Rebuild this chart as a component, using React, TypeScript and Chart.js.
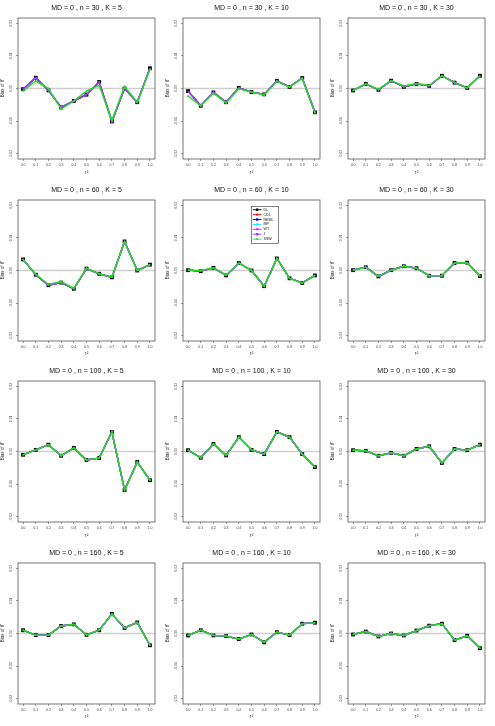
import React, { useEffect, useRef } from "react";
import { Chart, registerables } from "chart.js";

Chart.register(...registerables);

const FONT = "'Liberation Sans', Arial, Helvetica, sans-serif";

const tau = [0, 0.1, 0.2, 0.3, 0.4, 0.5, 0.6, 0.7, 0.8, 0.9, 1.0];
const xTickLabels = ["0.0", "0.1", "0.2", "0.3", "0.4", "0.5", "0.6", "0.7", "0.8", "0.9", "1.0"];
const yTickValues = [-0.02, -0.01, 0, 0.01, 0.02];
const yTickLabels = ["-0.02", "-0.01", "0.00", "0.01", "0.02"];

const methods = ["DL", "CDL", "REML", "MP", "WT", "J", "SSW"];
const methodColors = ["#000000", "#ff0000", "#0000ff", "#00e5ff", "#ff00ff", "#9b30ff", "#22dd22"];
const methodMarkers = ["rect", "circle", "rect", "star", "triangleDown", "rect", "triangle"];

// n = 30
const dlN30K5 = [-0.0002, 0.0033, -0.0006, -0.0058, -0.0038, -0.0019, 0.0020, -0.0101, 0.0000, -0.0042, 0.0062];
const sswN30K5 = [-0.0007, 0.0023, 0.0000, -0.0063, -0.0038, -0.0008, 0.0010, -0.0099, 0.0006, -0.0042, 0.0059];
const dlN30K10 = [-0.0008, -0.0053, -0.0012, -0.0042, 0.0002, -0.0011, -0.0018, 0.0023, 0.0005, 0.0032, -0.0073];
const sswN30K10 = [-0.0023, -0.0053, -0.0014, -0.0044, -0.0001, -0.0011, -0.0020, 0.0022, 0.0004, 0.0031, -0.0075];
const dlN30K30 = [-0.0006, 0.0014, -0.0004, 0.0024, 0.0005, 0.0014, 0.0008, 0.0039, 0.0018, 0.0002, 0.0039];
const sswN30K30 = [-0.0006, 0.0014, -0.0003, 0.0024, 0.0008, 0.0015, 0.0009, 0.0039, 0.0018, 0.0002, 0.0038];
// n = 60
const dlN60K5 = [0.0034, -0.0013, -0.0045, -0.0037, -0.0056, 0.0006, -0.0010, -0.0021, 0.0089, 0.0000, 0.0018];
const sswN60K5 = [0.0034, -0.0012, -0.0043, -0.0034, -0.0055, 0.0007, -0.0010, -0.0020, 0.0088, 0.0000, 0.0018];
const dlN60K10 = [0.0001, -0.0002, 0.0008, -0.0015, 0.0023, 0.0000, -0.0048, 0.0037, -0.0024, -0.0038, -0.0015];
const sswN60K10 = [0.0001, 0.0000, 0.0008, -0.0015, 0.0023, 0.0000, -0.0048, 0.0037, -0.0024, -0.0038, -0.0015];
const dlN60K30 = [0.0001, 0.0010, -0.0018, 0.0001, 0.0013, 0.0007, -0.0016, -0.0016, 0.0023, 0.0024, -0.0017];
// n = 100
const dlN100K5 = [-0.0010, 0.0005, 0.0021, -0.0013, 0.0011, -0.0026, -0.0020, 0.0060, -0.0118, -0.0032, -0.0088];
const dlN100K10 = [0.0004, -0.0019, 0.0023, -0.0012, 0.0044, 0.0005, -0.0008, 0.0060, 0.0044, -0.0008, -0.0048];
const dlN100K30 = [0.0004, 0.0002, -0.0013, -0.0004, -0.0013, 0.0008, 0.0016, -0.0035, 0.0008, 0.0004, 0.0021];
// n = 160
const dlN160K5 = [0.0010, -0.0005, -0.0005, 0.0023, 0.0028, -0.0004, 0.0010, 0.0060, 0.0017, 0.0034, -0.0036];
const dlN160K10 = [-0.0006, 0.0010, -0.0006, -0.0008, -0.0017, -0.0003, -0.0027, 0.0004, -0.0005, 0.0030, 0.0033];
const dlN160K30 = [-0.0003, 0.0006, -0.0009, 0.0000, -0.0006, 0.0009, 0.0024, 0.0030, -0.0020, -0.0007, -0.0045];

const nValues = [30, 60, 100, 160];
const kValues = [5, 10, 30];

const panels = [
  { n: 30, k: 5, dl: dlN30K5, ssw: sswN30K5 },
  { n: 30, k: 10, dl: dlN30K10, ssw: sswN30K10 },
  { n: 30, k: 30, dl: dlN30K30, ssw: sswN30K30 },
  { n: 60, k: 5, dl: dlN60K5, ssw: sswN60K5 },
  { n: 60, k: 10, dl: dlN60K10, ssw: sswN60K10 },
  { n: 60, k: 30, dl: dlN60K30, ssw: dlN60K30 },
  { n: 100, k: 5, dl: dlN100K5, ssw: dlN100K5 },
  { n: 100, k: 10, dl: dlN100K10, ssw: dlN100K10 },
  { n: 100, k: 30, dl: dlN100K30, ssw: dlN100K30 },
  { n: 160, k: 5, dl: dlN160K5, ssw: dlN160K5 },
  { n: 160, k: 10, dl: dlN160K10, ssw: dlN160K10 },
  { n: 160, k: 30, dl: dlN160K30, ssw: dlN160K30 },
];

const PANEL_W = 165;
const ROW_TOPS = [0, 182, 363, 545];
const ROW_H = [182, 181, 182, 181];
const PLOT_TOP = 18;
const PLOT_BOTTOM = 159;
const Y_AXIS_W = 18;
const RIGHT_PAD = 10;

function drawMarker(ctx: CanvasRenderingContext2D, style: string, x: number, y: number, r: number, color: string) {
  ctx.save();
  ctx.fillStyle = color;
  ctx.strokeStyle = color;
  ctx.lineWidth = 0.6;
  ctx.beginPath();
  if (style === "rect") {
    ctx.rect(x - r, y - r, 2 * r, 2 * r);
    ctx.fill();
  } else if (style === "circle") {
    ctx.arc(x, y, r, 0, Math.PI * 2);
    ctx.fill();
  } else if (style === "triangle") {
    ctx.moveTo(x, y - r * 1.2);
    ctx.lineTo(x + r * 1.1, y + r * 0.8);
    ctx.lineTo(x - r * 1.1, y + r * 0.8);
    ctx.closePath();
    ctx.fill();
  } else if (style === "triangleDown") {
    ctx.moveTo(x, y + r * 1.2);
    ctx.lineTo(x + r * 1.1, y - r * 0.8);
    ctx.lineTo(x - r * 1.1, y - r * 0.8);
    ctx.closePath();
    ctx.fill();
  } else {
    for (let a = 0; a < 4; a++) {
      const ang = (a * Math.PI) / 4;
      ctx.moveTo(x - Math.cos(ang) * r * 1.2, y - Math.sin(ang) * r * 1.2);
      ctx.lineTo(x + Math.cos(ang) * r * 1.2, y + Math.sin(ang) * r * 1.2);
    }
    ctx.stroke();
  }
  ctx.restore();
}

function Panel({ spec, left, top, height, showLegend }: any) {
  const ref = useRef<HTMLCanvasElement>(null);
  useEffect(() => {
    const canvas = ref.current!;
    const series = [spec.dl, spec.dl, spec.dl, spec.dl, spec.dl, spec.dl, spec.ssw];
    const datasets = methods.map((m, i) => ({
      label: m,
      data: tau.map((t, j) => ({ x: t, y: series[i][j] })),
      borderColor: methodColors[i],
      backgroundColor: methodColors[i],
      borderWidth: i === 6 ? 1.5 : i === 0 ? 1 : 1.3,
      pointStyle: i === 0 ? "rect" : "triangle",
      pointRadius: i === 0 ? 2.7 : i === 6 ? 1.4 : 0,
      pointHoverRadius: 0,
      pointBorderWidth: 0,
      tension: 0,
      order: 6 - i,
    }));

    const title = `MD = 0 , n = ${spec.n} , K = ${spec.k}`;

    const decor = {
      id: "decor",
      beforeDatasetsDraw(chart: any) {
        const { ctx, chartArea } = chart;
        const y0 = chart.scales.y.getPixelForValue(0);
        ctx.save();
        ctx.strokeStyle = "#cfcfcf";
        ctx.lineWidth = 1.4;
        ctx.beginPath();
        ctx.moveTo(chartArea.left, y0);
        ctx.lineTo(chartArea.right, y0);
        ctx.stroke();
        ctx.restore();
      },
      afterDraw(chart: any) {
        const { ctx, chartArea } = chart;
        ctx.save();
        ctx.strokeStyle = "#555555";
        ctx.lineWidth = 0.8;
        ctx.strokeRect(chartArea.left, chartArea.top, chartArea.right - chartArea.left, chartArea.bottom - chartArea.top);
        ctx.fillStyle = "#111111";
        ctx.font = `7px ${FONT}`;
        ctx.textAlign = "center";
        ctx.textBaseline = "middle";
        ctx.fillText(title, (chartArea.left + chartArea.right) / 2, 8.5);
        if (showLegend) {
          const bx = 86.5, by = 24.5, bw = 27, bh = 37;
          ctx.fillStyle = "#ffffff";
          ctx.fillRect(bx, by, bw, bh);
          ctx.strokeStyle = "#333333";
          ctx.lineWidth = 0.6;
          ctx.strokeRect(bx, by, bw, bh);
          ctx.font = `3.6px ${FONT}`;
          ctx.textAlign = "left";
          ctx.textBaseline = "middle";
          methods.forEach((m, i) => {
            const yy = by + 3.2 + i * 4.9;
            ctx.strokeStyle = methodColors[i];
            ctx.lineWidth = 0.9;
            ctx.beginPath();
            ctx.moveTo(bx + 1.3, yy);
            ctx.lineTo(bx + 10, yy);
            ctx.stroke();
            drawMarker(ctx, methodMarkers[i], bx + 5.6, yy, 1.2, methodColors[i]);
            ctx.fillStyle = "#111111";
            ctx.fillText(m, bx + 12, yy);
          });
        }
        ctx.restore();
      },
    };

    const chart = new Chart(canvas, {
      type: "line",
      data: { datasets },
      options: {
        animation: false,
        responsive: false,
        devicePixelRatio: 1,
        events: [],
        layout: { padding: { top: PLOT_TOP, right: RIGHT_PAD, left: 0, bottom: 0 } },
        plugins: { legend: { display: false }, title: { display: false }, tooltip: { enabled: false } },
        scales: {
          x: {
            type: "linear",
            min: -0.04,
            max: 1.04,
            afterBuildTicks: (s: any) => {
              s.ticks = tau.map((v) => ({ value: v }));
            },
            afterFit: (s: any) => {
              s.height = height - PLOT_BOTTOM;
            },
            ticks: {
              autoSkip: false,
              maxRotation: 0,
              minRotation: 0,
              padding: 1.5,
              color: "#444444",
              font: { size: 3.5, family: FONT },
              callback: (_v: any, i: number) => xTickLabels[i],
            },
            grid: { drawOnChartArea: false, drawTicks: true, tickLength: 2, color: "#555555", lineWidth: 0.6 },
            border: { display: false },
            title: { display: true, text: "τ²", color: "#333333", font: { size: 5, family: FONT }, padding: { top: 0, bottom: 6 } },
          },
          y: {
            type: "linear",
            min: -0.0216,
            max: 0.0216,
            afterBuildTicks: (s: any) => {
              s.ticks = yTickValues.map((v) => ({ value: v }));
            },
            afterFit: (s: any) => {
              s.width = Y_AXIS_W;
            },
            ticks: {
              minRotation: 90,
              maxRotation: 90,
              crossAlign: "center",
              padding: 1,
              color: "#444444",
              font: { size: 3.5, family: FONT },
              callback: (_v: any, i: number) => yTickLabels[i],
            },
            grid: { drawOnChartArea: false, drawTicks: true, tickLength: 2, color: "#555555", lineWidth: 0.6 },
            border: { display: false },
            title: { display: true, text: "Bias of θ̂", color: "#333333", font: { size: 4.5, family: FONT }, padding: { top: 0.5, bottom: 0 } },
          },
        },
      } as any,
      plugins: [decor],
    });
    return () => chart.destroy();
  }, []);
  return (
    <canvas
      ref={ref}
      width={PANEL_W}
      height={height}
      style={{ position: "absolute", left, top, width: PANEL_W, height }}
    />
  );
}

export default function App() {
  return (
    <div style={{ position: "absolute", left: 0, top: 0, width: 495, height: 726, background: "#ffffff" }}>
      {panels.map((p, idx) => {
        const r = nValues.indexOf(p.n);
        const c = kValues.indexOf(p.k);
        return (
          <Panel
            key={idx}
            spec={p}
            left={c * PANEL_W}
            top={ROW_TOPS[r]}
            height={ROW_H[r]}
            showLegend={p.n === 60 && p.k === 10}
          />
        );
      })}
    </div>
  );
}
